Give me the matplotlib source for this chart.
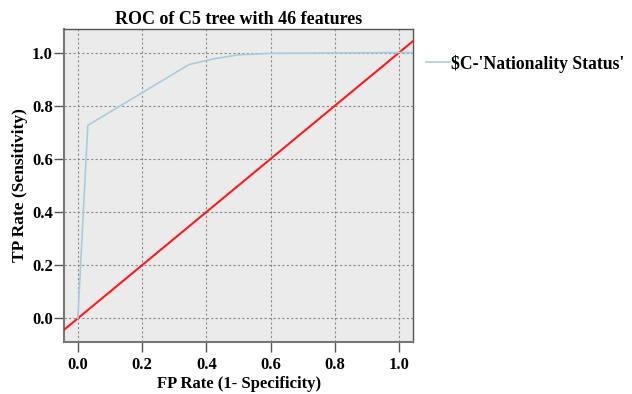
import matplotlib
matplotlib.use("Agg")
import matplotlib.pyplot as plt

fpr = [0.0, 0.031, 0.346, 0.426, 0.498, 0.6, 1.0, 1.06]
tpr = [0.0, 0.726, 0.955, 0.977, 0.991, 0.997, 1.0, 1.0]
diag = [-0.1, 1.1]
series_name = "$C-'Nationality Status'"
ticks = [0.0, 0.2, 0.4, 0.6, 0.8, 1.0]

plt.rcParams['font.family'] = ['Liberation Serif', 'DejaVu Serif']
plt.rcParams['font.weight'] = 'bold'

fig = plt.figure(figsize=(6.32, 3.94), dpi=100)
ax = fig.add_axes([0.1013, 0.1327, 0.5527, 0.7933])
ax.set_facecolor('#EBEBEB')
ax.grid(True, linestyle=(0, (2, 2)), color='#8a8a8a', linewidth=0.8)
ax.set_axisbelow(True)

ax.plot(diag, diag, color='#FF1A1A', linewidth=1.5, zorder=3)
line, = ax.plot(fpr, tpr, color='#A9CCDD', linewidth=1.2, zorder=4, label=series_name)

ax.set_xlim(-0.043, 1.044)
ax.set_ylim(-0.088, 1.088)
ax.set_xticks(ticks)
ax.set_yticks(ticks)
ax.set_xticklabels([f"{t:.1f}" for t in ticks], fontsize=12, fontweight='bold')
ax.set_yticklabels([f"{t:.1f}" for t in ticks], fontsize=12, fontweight='bold')
ax.tick_params(axis='both', direction='out', length=7, color='#555555', width=1)
ax.tick_params(axis='x', pad=4)
ax.tick_params(axis='y', pad=1)

for s in ['left', 'bottom']:
    ax.spines[s].set_color('#777777')
    ax.spines[s].set_linewidth(1.5)
for s in ['top', 'right']:
    ax.spines[s].set_color('#555555')
    ax.spines[s].set_linewidth(1.0)

ax.set_title("ROC of C5 tree with 46 features", fontsize=13, fontweight='bold', pad=4)
ax.set_xlabel("FP Rate (1- Specificity)", fontsize=12, fontweight='bold', labelpad=2)
ax.set_ylabel("TP Rate (Sensitivity)", fontsize=12.5, fontweight='bold', labelpad=3)

leg = ax.legend(handles=[line], loc='center left', bbox_to_anchor=(1.0, 0.89),
                frameon=False, prop={'weight': 'bold', 'size': 12.7},
                handlelength=1.4, handletextpad=0.05, borderaxespad=0.3)

fig.savefig("out.png", dpi=100)
